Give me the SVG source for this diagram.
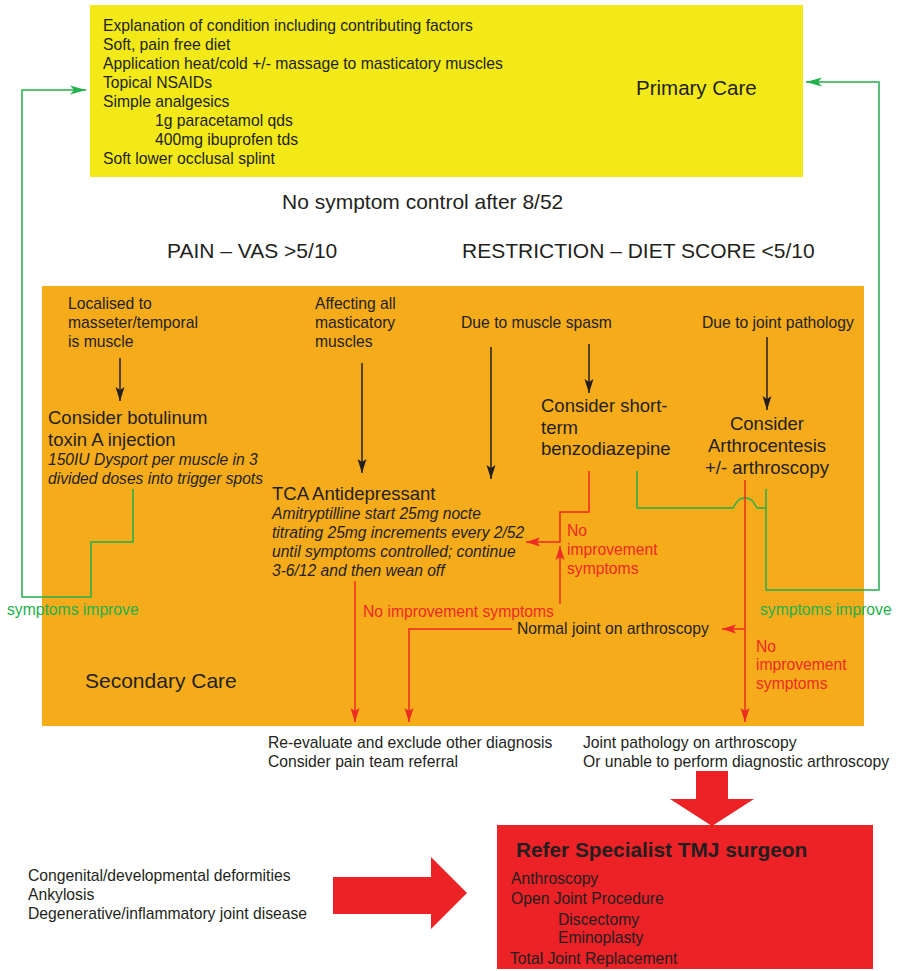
<svg xmlns="http://www.w3.org/2000/svg" width="898" height="971" viewBox="0 0 898 971">
<style>
text{font-family:"Liberation Sans",Arial,sans-serif;fill:#231f20}
.s{font-size:15.7px}
.m{font-size:18.5px}
.l{font-size:21px}
.i{font-size:15.6px;font-style:italic}
.r{fill:#ee2a24}
.g{fill:#22b04b}
.kl{stroke:#231f20;stroke-width:1.5;fill:none}
.rl{stroke:#ee2a24;stroke-width:1.5;fill:none}
.gl{stroke:#22b04b;stroke-width:1.5;fill:none}
</style>
<defs>
<marker id="ak" markerUnits="userSpaceOnUse" markerWidth="14" markerHeight="10" refX="14" refY="5" orient="auto"><path d="M0,0.5 L14,5 L0,9.5 L3,5 z" fill="#231f20"/></marker>
<marker id="ar" markerUnits="userSpaceOnUse" markerWidth="14" markerHeight="10" refX="14" refY="5" orient="auto"><path d="M0,0.5 L14,5 L0,9.5 L3,5 z" fill="#ee2a24"/></marker>
<marker id="ag" markerUnits="userSpaceOnUse" markerWidth="16" markerHeight="10" refX="16" refY="5" orient="auto"><path d="M0,0.5 L16,5 L0,9.5 L4,5 z" fill="#22b04b"/></marker>
</defs>
<rect width="898" height="971" fill="#fff"/>

<g id="primary-care">
<rect x="90" y="5" width="713" height="172" fill="#f2e916"/>
<text class="s" x="103" y="31">Explanation of condition including contributing factors</text>
<text class="s" x="103" y="50">Soft, pain free diet</text>
<text class="s" x="103" y="69">Application heat/cold +/- massage to masticatory muscles</text>
<text class="s" x="103" y="88">Topical NSAIDs</text>
<text class="s" x="103" y="107">Simple analgesics</text>
<text class="s" x="155" y="126">1g paracetamol qds</text>
<text class="s" x="155" y="145">400mg ibuprofen tds</text>
<text class="s" x="103" y="164">Soft lower occlusal splint</text>
<text x="636" y="95" style="font-size:20.5px">Primary Care</text>
</g>

<g id="headings">
<text class="l" x="282" y="209">No symptom control after 8/52</text>
<text class="l" x="167" y="258">PAIN – VAS &gt;5/10</text>
<text class="l" x="462" y="258">RESTRICTION – DIET SCORE &lt;5/10</text>
</g>

<g id="secondary-care">
<rect x="42" y="286" width="822" height="440" fill="#f6ab1b"/>
<text class="l" x="85" y="688">Secondary Care</text>
</g>

<g id="localised">
<text class="s" x="68" y="309">Localised to</text>
<text class="s" x="68" y="328">masseter/temporal</text>
<text class="s" x="68" y="347">is muscle</text>
</g>
<g id="botulinum">
<text class="m" x="48" y="424">Consider botulinum</text>
<text class="m" x="48" y="446">toxin A injection</text>
<text class="i" x="48" y="465">150IU Dysport per muscle in 3</text>
<text class="i" x="48" y="484">divided doses into trigger spots</text>
</g>
<g id="affecting">
<text class="s" x="315" y="309">Affecting all</text>
<text class="s" x="315" y="328">masticatory</text>
<text class="s" x="315" y="347">muscles</text>
</g>
<g id="tca">
<text class="m" x="272" y="500">TCA Antidepressant</text>
<text class="i" x="272" y="519">Amitryptilline start 25mg nocte</text>
<text class="i" x="272" y="538">titrating 25mg increments every 2/52</text>
<text class="i" x="272" y="557">until symptoms controlled; continue</text>
<text class="i" x="272" y="576">3-6/12 and then wean off</text>
</g>
<g id="spasm">
<text class="s" x="461" y="328">Due to muscle spasm</text>
</g>
<g id="benzodiazepine">
<text class="m" x="541" y="412">Consider short-</text>
<text class="m" x="541" y="434">term</text>
<text class="m" x="541" y="455">benzodiazepine</text>
</g>
<g id="joint">
<text class="s" x="702" y="328">Due to joint pathology</text>
</g>
<g id="arthrocentesis">
<text class="m" x="767" y="430" text-anchor="middle">Consider</text>
<text class="m" x="767" y="452" text-anchor="middle">Arthrocentesis</text>
<text class="m" x="767" y="474" text-anchor="middle">+/- arthroscopy</text>
</g>
<g id="normal-joint">
<text class="s" x="517" y="634">Normal joint on arthroscopy</text>
</g>
<g id="reevaluate">
<text class="s" x="268" y="748">Re-evaluate and exclude other diagnosis</text>
<text class="s" x="268" y="767">Consider pain team referral</text>
</g>
<g id="joint-pathology">
<text class="s" x="583" y="748">Joint pathology on arthroscopy</text>
<text class="s" x="583" y="767">Or unable to perform diagnostic arthroscopy</text>
</g>
<g id="other-conditions">
<text class="s" x="28" y="881">Congenital/developmental deformities</text>
<text class="s" x="28" y="900">Ankylosis</text>
<text class="s" x="28" y="919">Degenerative/inflammatory joint disease</text>
</g>
<g id="specialist">
<rect x="497" y="825" width="376" height="144" fill="#ec2227"/>
<text x="516" y="857" style="font-size:20.8px;font-weight:bold">Refer Specialist TMJ surgeon</text>
<text class="s" x="511" y="884">Anthroscopy</text>
<text class="s" x="511" y="904">Open Joint Procedure</text>
<text class="s" x="558" y="925">Discectomy</text>
<text class="s" x="558" y="943">Eminoplasty</text>
<text class="s" x="510" y="964">Total Joint Replacement</text>
</g>

<g id="connectors">
<line class="kl" x1="120" y1="358" x2="120" y2="401" marker-end="url(#ak)"/>
<line class="kl" x1="362" y1="363" x2="362" y2="473" marker-end="url(#ak)"/>
<line class="kl" x1="491" y1="347" x2="491" y2="479" marker-end="url(#ak)"/>
<line class="kl" x1="589" y1="344" x2="589" y2="393" marker-end="url(#ak)"/>
<line class="kl" x1="767" y1="337" x2="767" y2="410" marker-end="url(#ak)"/>

<path class="gl" d="M133,489 V542 H91 V597 H22 V90 H86" marker-end="url(#ag)"/>
<path class="gl" d="M766,489 V590 H879 V82 H806" marker-end="url(#ag)"/>
<path class="gl" d="M637,471 V508 H733 C736,504 737,498 745,498 C753,498 754,504 757,508 H766"/>

<path class="rl" d="M589,471 V512 H560 V542 H526" marker-end="url(#ar)"/>
<line class="rl" x1="560" y1="604" x2="560" y2="546" marker-end="url(#ar)"/>
<line class="rl" x1="355" y1="581" x2="355" y2="722" marker-end="url(#ar)"/>
<path class="rl" d="M512,629 H409 V722" marker-end="url(#ar)"/>
<line class="rl" x1="745" y1="480" x2="745" y2="722" marker-end="url(#ar)"/>
<line class="rl" x1="745" y1="629" x2="722" y2="629" marker-end="url(#ar)"/>

<text class="s r" x="567" y="536">No</text>
<text class="s r" x="567" y="555">improvement</text>
<text class="s r" x="567" y="574">symptoms</text>
<text class="s r" x="363" y="617">No improvement symptoms</text>
<text class="s r" x="756" y="652">No</text>
<text class="s r" x="756" y="670">improvement</text>
<text class="s r" x="756" y="689">symptoms</text>
<text class="s g" x="7" y="615">symptoms improve</text>
<text class="s g" x="760" y="615">symptoms improve</text>

<polygon points="696,771 728,771 728,799 754,799 712,826 670,799 696,799" fill="#ec2227"/>
<polygon points="333,877 431,877 431,857 467,893 431,929 431,914 333,914" fill="#ec2227"/>
</g>
</svg>
